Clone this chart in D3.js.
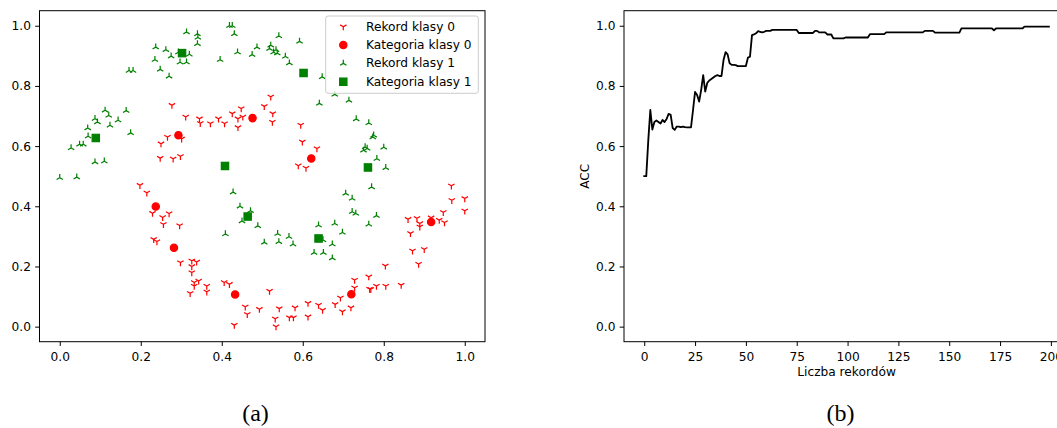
<!DOCTYPE html>
<html>
<head>
<meta charset="utf-8">
<script src="https://cdn.jsdelivr.net/npm/d3@7"></script>
<style>
  body { margin: 0; background: #ffffff; }
  svg text { font-family: "DejaVu Sans", sans-serif; fill: #000; }
  .tick text { font-size: 12.2px; }
  .axis_label { font-size: 12.2px; }
  .legend text { font-size: 12.2px; }
  .caption { font-family: "Liberation Serif", "DejaVu Serif", serif !important; font-size: 24px; }
</style>
</head>
<body>
<svg id="chart" width="1057" height="428"></svg>
<script>

// records of class 0 (red, tri down)
var class0X = [0.277, 0.311, 0.345, 0.347, 0.372, 0.392, 0.407, 0.426, 0.440, 0.448,
               0.452, 0.440, 0.505, 0.521, 0.526, 0.525, 0.595, 0.599, 0.635, 0.589,
               0.608, 0.266, 0.301, 0.250, 0.248, 0.280, 0.298, 0.198, 0.215, 0.229,
               0.254, 0.270, 0.256, 0.296, 0.232, 0.240, 0.298, 0.326, 0.338, 0.326,
               0.326, 0.332, 0.343, 0.332, 0.322, 0.363, 0.363, 0.406, 0.419, 0.458,
               0.463, 0.431, 0.493, 0.967, 0.968, 1.000, 1.000, 0.947, 0.950, 0.937,
               0.889, 0.889, 0.882, 0.860, 0.866, 0.871, 0.900, 0.886, 0.804, 0.763,
               0.728, 0.728, 0.765, 0.768, 0.782, 0.805, 0.843, 0.693, 0.680, 0.719,
               0.698, 0.639, 0.649, 0.613, 0.613, 0.581, 0.567, 0.577, 0.542, 0.532,
               0.534, 0.518, 0.917];
var class0Y = [0.736, 0.697, 0.691, 0.676, 0.675, 0.691, 0.675, 0.708, 0.691, 0.725,
               0.697, 0.662, 0.732, 0.764, 0.708, 0.680, 0.670, 0.614, 0.592, 0.535,
               0.527, 0.630, 0.624, 0.608, 0.560, 0.558, 0.566, 0.470, 0.445, 0.377,
               0.363, 0.376, 0.340, 0.336, 0.290, 0.283, 0.213, 0.219, 0.215, 0.200,
               0.180, 0.147, 0.152, 0.135, 0.111, 0.135, 0.116, 0.147, 0.141, 0.066,
               0.041, 0.005, 0.058, 0.468, 0.420, 0.426, 0.385, 0.380, 0.346, 0.354,
               0.343, 0.332, 0.360, 0.357, 0.310, 0.252, 0.257, 0.208, 0.202, 0.166,
               0.155, 0.129, 0.125, 0.124, 0.135, 0.135, 0.138, 0.096, 0.074, 0.063,
               0.050, 0.072, 0.055, 0.078, 0.033, 0.063, 0.030, 0.030, 0.060, 0.026,
               0.000, 0.118, 0.362];

// records of class 1 (green, tri up)
var class1X = [0.000, 0.042, 0.028, 0.049, 0.058, 0.087, 0.110, 0.069, 0.070, 0.087,
               0.093, 0.112, 0.121, 0.124, 0.144, 0.164, 0.175, 0.171, 0.181, 0.237,
               0.235, 0.248, 0.270, 0.262, 0.275, 0.293, 0.297, 0.313, 0.320, 0.313,
               0.340, 0.341, 0.340, 0.396, 0.419, 0.426, 0.431, 0.439, 0.475, 0.487,
               0.521, 0.518, 0.534, 0.537, 0.528, 0.541, 0.557, 0.567, 0.592, 0.648,
               0.679, 0.641, 0.714, 0.732, 0.763, 0.775, 0.773, 0.754, 0.759, 0.750,
               0.800, 0.783, 0.805, 0.428, 0.445, 0.450, 0.471, 0.409, 0.489, 0.505,
               0.538, 0.541, 0.566, 0.576, 0.639, 0.628, 0.651, 0.673, 0.679, 0.698,
               0.650, 0.673, 0.706, 0.722, 0.722, 0.731, 0.770, 0.782, 0.763];
var class1Y = [0.495, 0.497, 0.594, 0.606, 0.606, 0.547, 0.550, 0.660, 0.633, 0.691,
               0.680, 0.719, 0.702, 0.669, 0.686, 0.718, 0.644, 0.851, 0.851, 0.929,
               0.887, 0.855, 0.832, 0.920, 0.899, 0.912, 0.879, 0.879, 0.905, 0.979,
               0.973, 0.961, 0.940, 0.887, 1.000, 1.000, 0.973, 0.912, 0.904, 0.929,
               0.935, 0.924, 0.920, 0.909, 0.912, 0.966, 0.898, 0.876, 0.948, 0.830,
               0.772, 0.742, 0.752, 0.690, 0.677, 0.636, 0.630, 0.597, 0.592, 0.586,
               0.596, 0.558, 0.528, 0.447, 0.400, 0.351, 0.385, 0.308, 0.335, 0.280,
               0.309, 0.282, 0.299, 0.274, 0.337, 0.246, 0.246, 0.228, 0.343, 0.313,
               0.288, 0.274, 0.443, 0.426, 0.382, 0.376, 0.464, 0.369, 0.340];

// categories found for each class
var cat0X = [0.293, 0.476, 0.621, 0.237, 0.282, 0.433, 0.720, 0.917];
var cat0Y = [0.636, 0.693, 0.559, 0.399, 0.262, 0.107, 0.108, 0.348];
var cat1X = [0.302, 0.089, 0.408, 0.602, 0.761, 0.464, 0.639];
var cat1Y = [0.909, 0.627, 0.534, 0.843, 0.529, 0.366, 0.293];

// accuracy after each number of records (0 .. 199)
var accValues = [
  0.500, 0.500, 0.620, 0.720, 0.655, 0.680, 0.685, 0.680, 0.675, 0.687,
  0.680, 0.690, 0.707, 0.704, 0.660, 0.654, 0.665, 0.665, 0.663, 0.665,
  0.663, 0.662, 0.662, 0.662, 0.720, 0.780, 0.770, 0.748, 0.787, 0.836,
  0.781, 0.810, 0.818, 0.823, 0.828, 0.833, 0.836, 0.833, 0.833, 0.886,
  0.912, 0.905, 0.875, 0.870, 0.870, 0.869, 0.866, 0.866, 0.866, 0.866,
  0.866, 0.894, 0.897, 0.969, 0.971, 0.975, 0.982, 0.980, 0.978, 0.980,
  0.983, 0.983, 0.983, 0.986, 0.986, 0.986, 0.986, 0.986, 0.986, 0.986,
  0.986, 0.986, 0.986, 0.986, 0.986, 0.986, 0.976, 0.976, 0.976, 0.976,
  0.976, 0.976, 0.976, 0.976, 0.983, 0.983, 0.978, 0.978, 0.978, 0.978,
  0.971, 0.971, 0.971, 0.958, 0.958, 0.958, 0.958, 0.958, 0.958, 0.961,
  0.961, 0.961, 0.961, 0.961, 0.961, 0.961, 0.961, 0.961, 0.961, 0.961,
  0.961, 0.972, 0.972, 0.972, 0.972, 0.972, 0.972, 0.972, 0.972, 0.978,
  0.978, 0.978, 0.978, 0.978, 0.978, 0.978, 0.978, 0.978, 0.978, 0.978,
  0.978, 0.978, 0.978, 0.978, 0.978, 0.978, 0.978, 0.978, 0.983, 0.983,
  0.983, 0.983, 0.983, 0.977, 0.977, 0.977, 0.977, 0.977, 0.977, 0.977,
  0.977, 0.977, 0.977, 0.977, 0.977, 0.977, 0.991, 0.991, 0.991, 0.991,
  0.991, 0.991, 0.991, 0.991, 0.991, 0.991, 0.991, 0.991, 0.991, 0.991,
  0.991, 0.991, 0.985, 0.991, 0.991, 0.991, 0.991, 0.991, 0.991, 0.991,
  0.991, 0.991, 0.991, 0.991, 0.991, 0.991, 0.991, 0.997, 0.997, 0.997,
  0.997, 0.997, 0.997, 0.997, 0.997, 0.997, 0.997, 0.997, 0.997, 0.997
];

// tick values and texts
var scatterTicks = [0, 0.2, 0.4, 0.6, 0.8, 1.0];
var accXTicks = [0, 25, 50, 75, 100, 125, 150, 175, 200];
var accYTicks = [0, 0.2, 0.4, 0.6, 0.8, 1.0];
var legendLabels = ["Rekord klasy 0", "Kategoria klasy 0", "Rekord klasy 1", "Kategoria klasy 1"];
var captions = ["(a)", "(b)"];

// matplotlib-ish sizes (1pt is about 1.22px here)
var tick_len = 4.3;
var tick_pad = 4.3;
var mark_r = 3.66;

var svg = d3.select("#chart");

// marker shapes
function tri_down(r) {
  var dx = 0.866 * r, dy = 0.5 * r;
  return "M0,0L0," + r + "M0,0L" + (-dx) + "," + (-dy) + "M0,0L" + dx + "," + (-dy);
}

function tri_up(r) {
  var dx = 0.866 * r, dy = 0.5 * r;
  return "M0,0L0," + (-r) + "M0,0L" + (-dx) + "," + dy + "M0,0L" + dx + "," + dy;
}

function draw_axes(g, x_scale, y_scale, x_ticks, y_ticks, x_fmt, width, height) {

  // x axis
  var xa = g.append("g")
      .attr("transform", "translate(0," + height + ")")
      .call(d3.axisBottom(x_scale).tickValues(x_ticks).tickFormat(x_fmt)
              .tickSizeInner(tick_len).tickSizeOuter(0).tickPadding(tick_pad));
  xa.select(".domain").remove();
  xa.selectAll("text").attr("dy", "0.88em");

  // y axis
  var ya = g.append("g")
      .call(d3.axisLeft(y_scale).tickValues(y_ticks).tickFormat(d3.format(".1f"))
              .tickSizeInner(tick_len).tickSizeOuter(0).tickPadding(tick_pad));
  ya.select(".domain").remove();

  g.selectAll(".tick line").attr("stroke", "#000").attr("stroke-width", 1);

  // frame (spines)
  g.append("rect")
      .attr("x", 0).attr("y", 0)
      .attr("width", width).attr("height", height)
      .attr("fill", "none")
      .attr("stroke", "#000")
      .attr("stroke-width", 1);
}

function scatter_plot() {

  var margin = {top: 10.7, left: 39.5};
  var width = 445.5, height = 331;

  var g = svg.append("g")
      .attr("transform", "translate(" + margin.left + "," + margin.top + ")");

  var x_scale = d3.scaleLinear().domain([-0.05, 1.05]).range([0, width]);
  var y_scale = d3.scaleLinear().domain([-0.05, 1.05]).range([height, 0]);

  // class 0 records
  g.append("g").selectAll("path")
      .data(d3.range(class0X.length))
      .enter()
      .append("path")
        .attr("transform", function(i) { return "translate(" + x_scale(class0X[i]) + "," + y_scale(class0Y[i]) + ")"; })
        .attr("d", tri_down(mark_r))
        .attr("fill", "none")
        .attr("stroke", "red")
        .attr("stroke-width", 1.22);

  // class 0 categories
  g.append("g").selectAll("circle")
      .data(d3.range(cat0X.length))
      .enter()
      .append("circle")
        .attr("cx", function(i) { return x_scale(cat0X[i]); })
        .attr("cy", function(i) { return y_scale(cat0Y[i]); })
        .attr("r", mark_r)
        .attr("fill", "red")
        .attr("stroke", "red")
        .attr("stroke-width", 1.22);

  // class 1 records
  g.append("g").selectAll("path")
      .data(d3.range(class1X.length))
      .enter()
      .append("path")
        .attr("transform", function(i) { return "translate(" + x_scale(class1X[i]) + "," + y_scale(class1Y[i]) + ")"; })
        .attr("d", tri_up(mark_r))
        .attr("fill", "none")
        .attr("stroke", "green")
        .attr("stroke-width", 1.22);

  // class 1 categories
  g.append("g").selectAll("rect")
      .data(d3.range(cat1X.length))
      .enter()
      .append("rect")
        .attr("x", function(i) { return x_scale(cat1X[i]) - mark_r; })
        .attr("y", function(i) { return y_scale(cat1Y[i]) - mark_r; })
        .attr("width", 2 * mark_r)
        .attr("height", 2 * mark_r)
        .attr("fill", "green")
        .attr("stroke", "green")
        .attr("stroke-width", 1.22);

  draw_axes(g, x_scale, y_scale, scatterTicks, scatterTicks, d3.format(".1f"), width, height);

  // legend in the upper right corner
  var legend = g.append("g")
      .attr("class", "legend")
      .attr("transform", "translate(" + (325.7 - margin.left) + "," + (16 - margin.top) + ")");

  legend.append("rect")
      .attr("width", 152.6)
      .attr("height", 77.3)
      .attr("rx", 2.4)
      .attr("fill", "#ffffff")
      .attr("fill-opacity", 0.8)
      .attr("stroke", "#cccccc")
      .attr("stroke-width", 1);

  var row_y = function(i) { return 10.7 + i * 18.35; };
  var mark_x = 17.6;

  legend.append("path")
      .attr("transform", "translate(" + mark_x + "," + row_y(0) + ")")
      .attr("d", tri_down(mark_r))
      .attr("fill", "none").attr("stroke", "red").attr("stroke-width", 1.22);
  legend.append("circle")
      .attr("cx", mark_x).attr("cy", row_y(1)).attr("r", mark_r)
      .attr("fill", "red").attr("stroke", "red").attr("stroke-width", 1.22);
  legend.append("path")
      .attr("transform", "translate(" + mark_x + "," + row_y(2) + ")")
      .attr("d", tri_up(mark_r))
      .attr("fill", "none").attr("stroke", "green").attr("stroke-width", 1.22);
  legend.append("rect")
      .attr("x", mark_x - mark_r).attr("y", row_y(3) - mark_r)
      .attr("width", 2 * mark_r).attr("height", 2 * mark_r)
      .attr("fill", "green").attr("stroke", "green").attr("stroke-width", 1.22);

  legend.selectAll("text")
      .data(legendLabels)
      .enter()
      .append("text")
        .attr("x", 40.3)
        .attr("y", function(d, i) { return row_y(i); })
        .attr("dy", "0.32em")
        .text(function(d) { return d; });

  // caption below the plot
  svg.append("text")
      .attr("class", "caption")
      .attr("x", 255.5)
      .attr("y", 421)
      .attr("text-anchor", "middle")
      .text(captions[0]);
}

function accuracy_plot() {

  var margin = {top: 10.7, left: 624};
  var width = 445.1, height = 331;

  var g = svg.append("g")
      .attr("transform", "translate(" + margin.left + "," + margin.top + ")");

  var x_scale = d3.scaleLinear().domain([-9.95, 208.95]).range([0, width]);
  var y_scale = d3.scaleLinear().domain([-0.05, 1.05]).range([height, 0]);

  var line = d3.line()
      .x(function(d, i) { return x_scale(i); })
      .y(function(d) { return y_scale(d); });

  g.append("path")
      .datum(accValues)
      .attr("d", line)
      .attr("fill", "none")
      .attr("stroke", "#000")
      .attr("stroke-width", 1.83)
      .attr("stroke-linejoin", "round")
      .attr("stroke-linecap", "square");

  draw_axes(g, x_scale, y_scale, accXTicks, accYTicks, d3.format("d"), width, height);

  // axis titles
  g.append("text")
      .attr("class", "axis_label")
      .attr("x", 846.6 - margin.left)
      .attr("y", 376 - margin.top)
      .attr("text-anchor", "middle")
      .text("Liczba rekordów");

  g.append("text")
      .attr("class", "axis_label")
      .attr("transform", "translate(" + (589.3 - margin.left) + "," + (height / 2) + ") rotate(-90)")
      .attr("text-anchor", "middle")
      .text("ACC");

  svg.append("text")
      .attr("class", "caption")
      .attr("x", 840.5)
      .attr("y", 421)
      .attr("text-anchor", "middle")
      .text(captions[1]);
}

scatter_plot();
accuracy_plot();

</script>
</body>
</html>
